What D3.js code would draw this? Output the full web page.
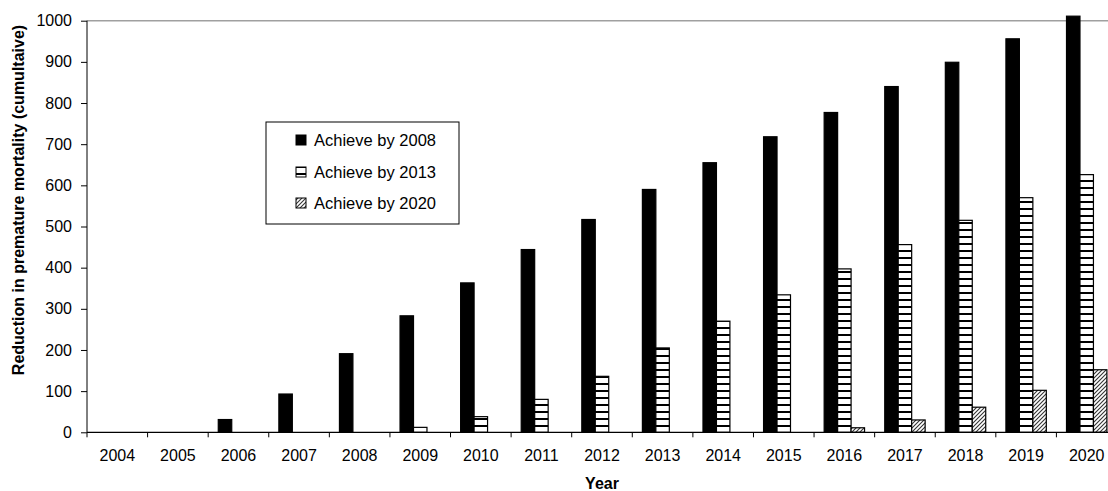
<!DOCTYPE html>
<html>
<head>
<meta charset="utf-8">
<script src="https://cdn.jsdelivr.net/npm/d3@7"></script>
<style>
  body { margin: 0; background: #fff; }
  text { font-family: "Liberation Sans", Arial, sans-serif; fill: #000; }
  .tick-label { font-size: 16px; }
  .axis-title { font-size: 16px; font-weight: bold; }
  .legend-text { font-size: 16.5px; }
</style>
</head>
<body>
<script>
const years = ["2004", "2005", "2006", "2007", "2008", "2009", "2010", "2011", "2012",
  "2013", "2014", "2015", "2016", "2017", "2018", "2019", "2020"];
const achieveBy2008 = [0, 0, 31, 93, 191, 283, 363, 444, 517, 590, 655, 718, 777, 840, 899, 956, 1011];
const achieveBy2013 = [0, 0, 0, 0, 0, 12, 38, 80, 136, 205, 270, 334, 397, 456, 515, 570, 626];
const achieveBy2020 = [0, 0, 0, 0, 0, 0, 0, 0, 0, 0, 0, 0, 11, 30, 61, 102, 152];
const seriesNames = ["Achieve by 2008", "Achieve by 2013", "Achieve by 2020"];
const yTicks = [0, 100, 200, 300, 400, 500, 600, 700, 800, 900, 1000];

const width = 1108, height = 491;
const plot = {left: 87, right: 1117, top: 20.7, bottom: 432.3};

const series = [achieveBy2008, achieveBy2013, achieveBy2020];
const fills = ["#000", "url(#hstripe)", "url(#diag)"];

const svg = d3.select("body")
  .append("svg")
  .attr("width", width)
  .attr("height", height);

// patterns like the old office fills
const defs = svg.append("defs");
const hs = defs.append("pattern")
  .attr("id", "hstripe")
  .attr("patternUnits", "userSpaceOnUse")
  .attr("width", 8)
  .attr("height", 7);
hs.append("rect").attr("width", 8).attr("height", 7).attr("fill", "#fff");
hs.append("rect").attr("y", 5).attr("width", 8).attr("height", 2).attr("fill", "#000");

const dg = defs.append("pattern")
  .attr("id", "diag")
  .attr("patternUnits", "userSpaceOnUse")
  .attr("width", 4)
  .attr("height", 4);
dg.append("rect").attr("width", 4).attr("height", 4).attr("fill", "#fff");
dg.append("path")
  .attr("d", "M-1,1 l2,-2 M0,4 l4,-4 M3,5 l2,-2")
  .attr("stroke", "#333")
  .attr("stroke-width", 1.1);

const xScale = d3.scaleBand()
  .domain(years)
  .range([plot.left, plot.right]);

const subScale = d3.scaleBand()
  .domain([0, 1, 2])
  .range([0, xScale.bandwidth()])
  .paddingInner(0)
  .paddingOuter(0.75);

const yScale = d3.scaleLinear()
  .domain([0, 1000])
  .range([plot.bottom, plot.top]);

// top border of the plot area
svg.append("line")
  .attr("x1", plot.left)
  .attr("x2", width)
  .attr("y1", yScale(1000))
  .attr("y2", yScale(1000))
  .attr("stroke", "#a0a0a0")
  .attr("stroke-width", 1.5);

// bars
series.forEach((vals, i) => {
  const rows = years.map((y, k) => ({year: y, value: vals[k]})).filter((d) => d.value > 0);
  svg.append("g")
    .selectAll("rect")
    .data(rows)
    .join("rect")
    .attr("x", (d) => xScale(d.year) + subScale(i))
    .attr("y", (d) => yScale(d.value))
    .attr("width", subScale.bandwidth())
    .attr("height", (d) => yScale(0) - yScale(d.value))
    .attr("fill", fills[i])
    .attr("stroke", "#000")
    .attr("stroke-width", 1.2);
});

// y axis
const yAxis = d3.axisLeft(yScale)
  .tickValues(yTicks)
  .tickFormat(d3.format("d"))
  .tickSize(6)
  .tickPadding(9);

const gy = svg.append("g")
  .attr("transform", "translate(" + plot.left + ",0)")
  .call(yAxis);
gy.select(".domain").attr("stroke", "#000").attr("d", "M0," + yScale(1000) + "V" + yScale(0));
gy.selectAll("text").attr("class", "tick-label").attr("font-family", null).attr("font-size", null);

// x axis: ticks sit between the categories
const gx = svg.append("g")
  .attr("transform", "translate(0," + plot.bottom + ")");
gx.append("line")
  .attr("x1", plot.left)
  .attr("x2", width)
  .attr("stroke", "#000")
  .attr("stroke-width", 1.2);
gx.selectAll(".xtick")
  .data(years)
  .join("line")
  .attr("class", "xtick")
  .attr("x1", (d) => xScale(d))
  .attr("x2", (d) => xScale(d))
  .attr("y1", 0)
  .attr("y2", 5)
  .attr("stroke", "#000");
gx.selectAll(".tick-label")
  .data(years)
  .join("text")
  .attr("class", "tick-label")
  .attr("x", (d) => xScale(d) + xScale.bandwidth() / 2)
  .attr("y", 23)
  .attr("dy", ".35em")
  .attr("text-anchor", "middle")
  .text((d) => d);

// axis titles
svg.append("text")
  .attr("class", "axis-title")
  .attr("x", (plot.left + plot.right) / 2)
  .attr("y", 489)
  .attr("text-anchor", "middle")
  .text("Year");

svg.append("text")
  .attr("class", "axis-title")
  .attr("transform", "translate(18,200) rotate(-90)")
  .attr("dy", ".35em")
  .attr("text-anchor", "middle")
  .text("Reduction in premature mortality (cumultaive)");

// legend
const legend = svg.append("g");
legend.append("rect")
  .attr("x", 266)
  .attr("y", 122)
  .attr("width", 193)
  .attr("height", 102)
  .attr("fill", "#fff")
  .attr("stroke", "#000");

const rowsY = [140, 172, 203];
seriesNames.forEach((name, i) => {
  legend.append("rect")
    .attr("x", 296)
    .attr("y", rowsY[i] - 5)
    .attr("width", 10)
    .attr("height", 10)
    .attr("fill", fills[i])
    .attr("stroke", "#000");
  legend.append("text")
    .attr("class", "legend-text")
    .attr("x", 314)
    .attr("y", rowsY[i])
    .attr("dy", ".35em")
    .text(name);
});
</script>
</body>
</html>
